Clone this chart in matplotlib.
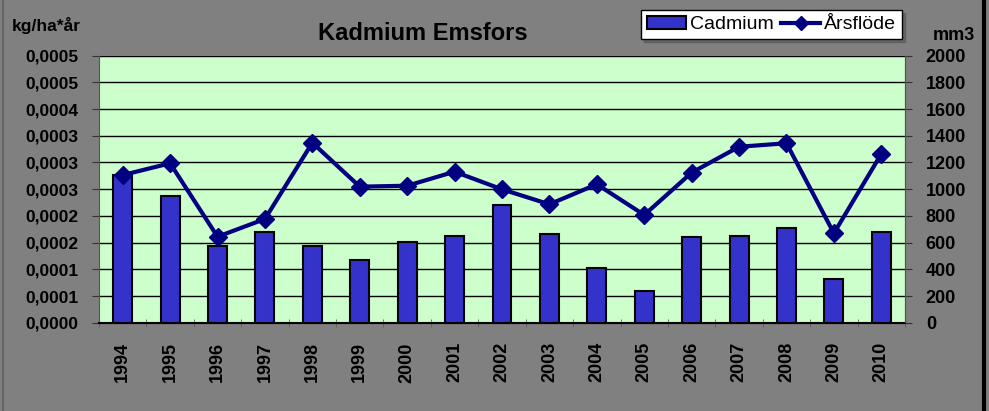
import matplotlib
matplotlib.use('Agg')
import matplotlib.pyplot as plt
from matplotlib.lines import Line2D
from matplotlib.patches import Patch
import numpy as np

years = ['1994', '1995', '1996', '1997', '1998', '1999', '2000', '2001', '2002',
         '2003', '2004', '2005', '2006', '2007', '2008', '2009', '2010']
cadmium = [0.000276, 0.000237, 0.000143, 0.000170, 0.000144, 0.000118, 0.000151,
           0.000162, 0.000220, 0.000166, 0.000103, 0.000060, 0.000161, 0.000163,
           0.000177, 0.000082, 0.000169]
arsflode = [1106, 1194, 644, 777, 1348, 1019, 1026, 1131, 999, 887, 1037, 807,
            1124, 1318, 1344, 670, 1264]

left_ticks = np.arange(0, 0.00051, 0.00005)
right_ticks = np.arange(0, 2001, 200)

plt.rcParams['font.family'] = ['Liberation Sans', 'DejaVu Sans']

fig = plt.figure(figsize=(9.89, 4.11), dpi=100)
fig.patch.set_facecolor('#808080')
ax = fig.add_axes([99 / 989, 88.3 / 411, 806 / 989, 267 / 411])
ax.set_facecolor('#CCFFCC')

x = np.arange(len(years))
ax.bar(x, cadmium, width=0.4, color='#3333CC', edgecolor='black', linewidth=1.5, zorder=3)
ax.set_ylim(0, 0.0005)
ax.set_xlim(-0.5, len(years) - 0.5)
ax.set_yticks(left_ticks)
ax.set_yticklabels([f'{v:.4f}'.replace('.', ',') for v in left_ticks],
                   fontsize=12.5, fontweight='bold')
ax.yaxis.grid(True, color='black', linewidth=1, zorder=1)
ax.set_axisbelow(True)
ax.set_xticks(x)
ax.set_xticklabels(years, rotation=90, fontsize=13, fontweight='bold')
ax.tick_params(axis='x', length=0, pad=14)
ax.set_xticks(np.arange(-0.5, len(years), 1), minor=True)
ax.tick_params(axis='x', which='minor', length=6, direction='inout', color='#556655')
ax.tick_params(axis='y', length=5, color='#333333', pad=10)
ax.spines['top'].set_visible(False)
ax.spines['left'].set_color('#555555')
ax.spines['right'].set_color('#555555')
ax.spines['bottom'].set_color('black')
ax.spines['bottom'].set_linewidth(1.5)

ax2 = ax.twinx()
ax2.plot(x, arsflode, color='#000080', linewidth=3, marker='D', markersize=9, zorder=4)
ax2.set_ylim(0, 2000)
ax2.set_yticks(right_ticks)
ax2.set_yticklabels([str(int(v)) for v in right_ticks], fontsize=13, fontweight='bold')
ax2.tick_params(axis='y', length=5, color='#333333', pad=10)
ax2.spines['top'].set_visible(False)
ax2.spines['right'].set_color('#555555')
ax2.spines['left'].set_visible(False)

fig.text(423 / 989, 1 - 33 / 411, 'Kadmium Emsfors', ha='center', va='center',
         fontsize=17, fontweight='bold')
fig.text(12 / 989, 1 - 26 / 411, 'kg/ha*år', ha='left', va='center',
         fontsize=12.5, fontweight='bold')
fig.text(954 / 989, 1 - 35 / 411, 'mm3', ha='center', va='center',
         fontsize=13, fontweight='bold')

handles = [Patch(facecolor='#3333CC', edgecolor='black', linewidth=1.5),
           Line2D([0], [0], color='#000080', linewidth=3, marker='D', markersize=7)]
leg = fig.legend(handles, ['Cadmium', 'Årsflöde'], loc='upper right',
                 bbox_to_anchor=(902 / 989, 1 - 10 / 411), borderaxespad=0,
                 ncol=2, fontsize=14, frameon=True, fancybox=False, shadow=True,
                 borderpad=0.3, handlelength=2.0, handletextpad=0.2,
                 columnspacing=0.4, framealpha=1)
leg.get_frame().set_edgecolor('black')
leg.get_frame().set_linewidth(1)

fig.add_artist(Line2D([984 / 989, 984 / 989], [0, 1], color='black', linewidth=3,
                      transform=fig.transFigure))
fig.add_artist(Line2D([3 / 989, 3 / 989], [0, 1], color='#666666', linewidth=1.5,
                      transform=fig.transFigure))

fig.savefig('out.png', dpi=100, facecolor=fig.get_facecolor())
